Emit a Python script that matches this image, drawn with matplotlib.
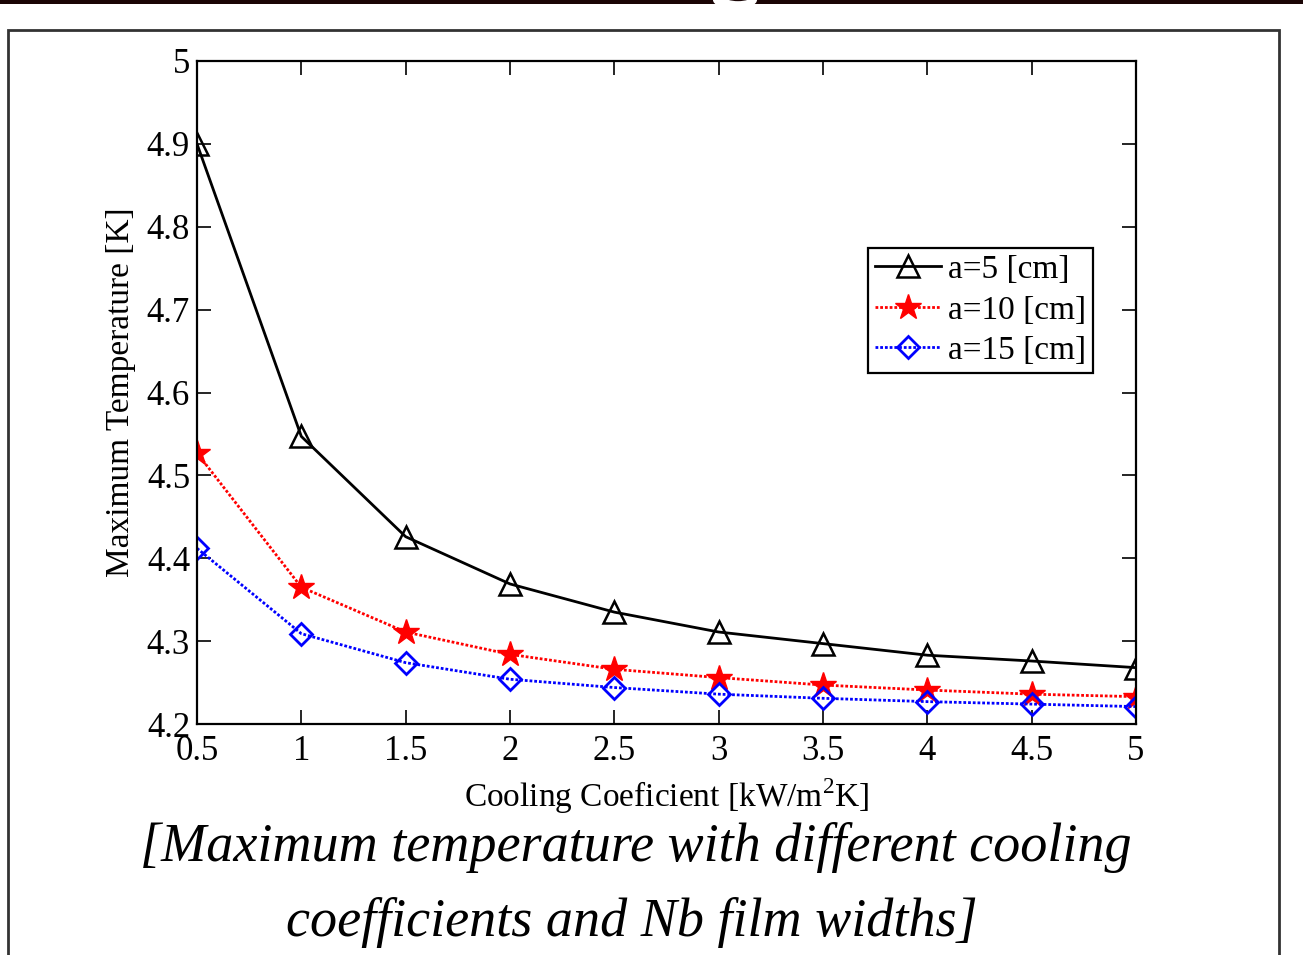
import numpy as np
import matplotlib
matplotlib.use('Agg')
import matplotlib.pyplot as plt
from matplotlib.patches import Rectangle, Ellipse

plt.rcParams['font.family'] = ['Liberation Serif', 'DejaVu Serif']
plt.rcParams['mathtext.fontset'] = 'custom'
plt.rcParams['mathtext.rm'] = 'Liberation Serif'

# cooling coefficient [kW/m^2K]
h = [0.5, 1, 1.5, 2, 2.5, 3, 3.5, 4, 4.5, 5]

# maximum temperature [K] for each film width
t_a5 = [4.900, 4.547, 4.426, 4.369, 4.335, 4.311, 4.297, 4.283, 4.276, 4.268]
t_a10 = [4.527, 4.365, 4.311, 4.284, 4.266, 4.256, 4.247, 4.241, 4.236, 4.233]
t_a15 = [4.412, 4.309, 4.274, 4.254, 4.244, 4.236, 4.231, 4.227, 4.224, 4.221]

labels = ['a=5 [cm]', 'a=10 [cm]', 'a=15 [cm]']
xticks = [0.5, 1, 1.5, 2, 2.5, 3, 3.5, 4, 4.5, 5]
yticks = [4.2, 4.3, 4.4, 4.5, 4.6, 4.7, 4.8, 4.9, 5]

fig = plt.figure(figsize=(13.03, 9.55), dpi=100)

# slide decoration: dark band on top and framed box
fig.patches.append(Rectangle((0, 1 - 4 / 955), 1, 4 / 955, transform=fig.transFigure,
                             facecolor='#1a0505', edgecolor='none', zorder=0))
fig.patches.append(Ellipse((735 / 1303, 1.0), 44 / 1303, 18 / 955, transform=fig.transFigure,
                           facecolor='white', edgecolor='none', zorder=1))
fig.patches.append(Ellipse((738 / 1303, 1.004), 28 / 1303, 10 / 955, transform=fig.transFigure,
                           facecolor='#1a0505', edgecolor='none', zorder=2))
fig.patches.append(Rectangle((8 / 1303, -0.01), 1271 / 1303, 1.01 - 30 / 955,
                             transform=fig.transFigure, facecolor='none',
                             edgecolor='#333333', linewidth=2.0, zorder=1))

ax = fig.add_axes([197 / 1303, 1 - 724 / 955, 939 / 1303, 663 / 955])

ax.plot(h, t_a5, color='black', linestyle='-', linewidth=2.0, marker='^',
        markersize=16, markerfacecolor='none', markeredgecolor='black',
        markeredgewidth=1.8, label=labels[0])
ax.plot(h, t_a10, color='red', linestyle=(0, (1, 0.7)), linewidth=2.0, marker='*',
        markersize=19, markerfacecolor='red', markeredgecolor='red',
        markeredgewidth=1.0, label=labels[1])
ax.plot(h, t_a15, color='blue', linestyle=(0, (1, 0.7)), linewidth=2.0, marker='D',
        markersize=11, markerfacecolor='none', markeredgecolor='blue',
        markeredgewidth=2.0, label=labels[2])

ax.set_xlim(0.5, 5)
ax.set_ylim(4.2, 5)
ax.set_xticks(xticks)
ax.set_xticklabels(['0.5', '1', '1.5', '2', '2.5', '3', '3.5', '4', '4.5', '5'])
ax.set_yticks(yticks)
ax.set_yticklabels(['4.2', '4.3', '4.4', '4.5', '4.6', '4.7', '4.8', '4.9', '5'])
ax.tick_params(direction='in', length=10, width=1.2, top=True, right=True,
               labelsize=25, pad=5)
ax.tick_params(axis='x', pad=8)
for s in ax.spines.values():
    s.set_linewidth(1.6)

ax.set_xlabel('Cooling Coeficient [kW/m$^{2}$K]', fontsize=24, labelpad=6)
ax.set_ylabel('Maximum Temperature [K]', fontsize=24, labelpad=8)

leg = ax.legend(loc='upper right', bbox_to_anchor=(0.954, 0.718), borderaxespad=0,
                fontsize=24, fancybox=False, framealpha=1, edgecolor='black',
                handlelength=2.0, handletextpad=0.2, labelspacing=0.3,
                borderpad=0.2)
leg.get_frame().set_linewidth(1.6)

fig.text(636 / 1303, 1 - 847 / 955, '[Maximum temperature with different cooling',
         ha='center', va='center', fontsize=39, style='italic')
fig.text(632 / 1303, 1 - 922 / 955, 'coefficients and Nb film widths]',
         ha='center', va='center', fontsize=39, style='italic')

fig.savefig('out.png', dpi=100)
